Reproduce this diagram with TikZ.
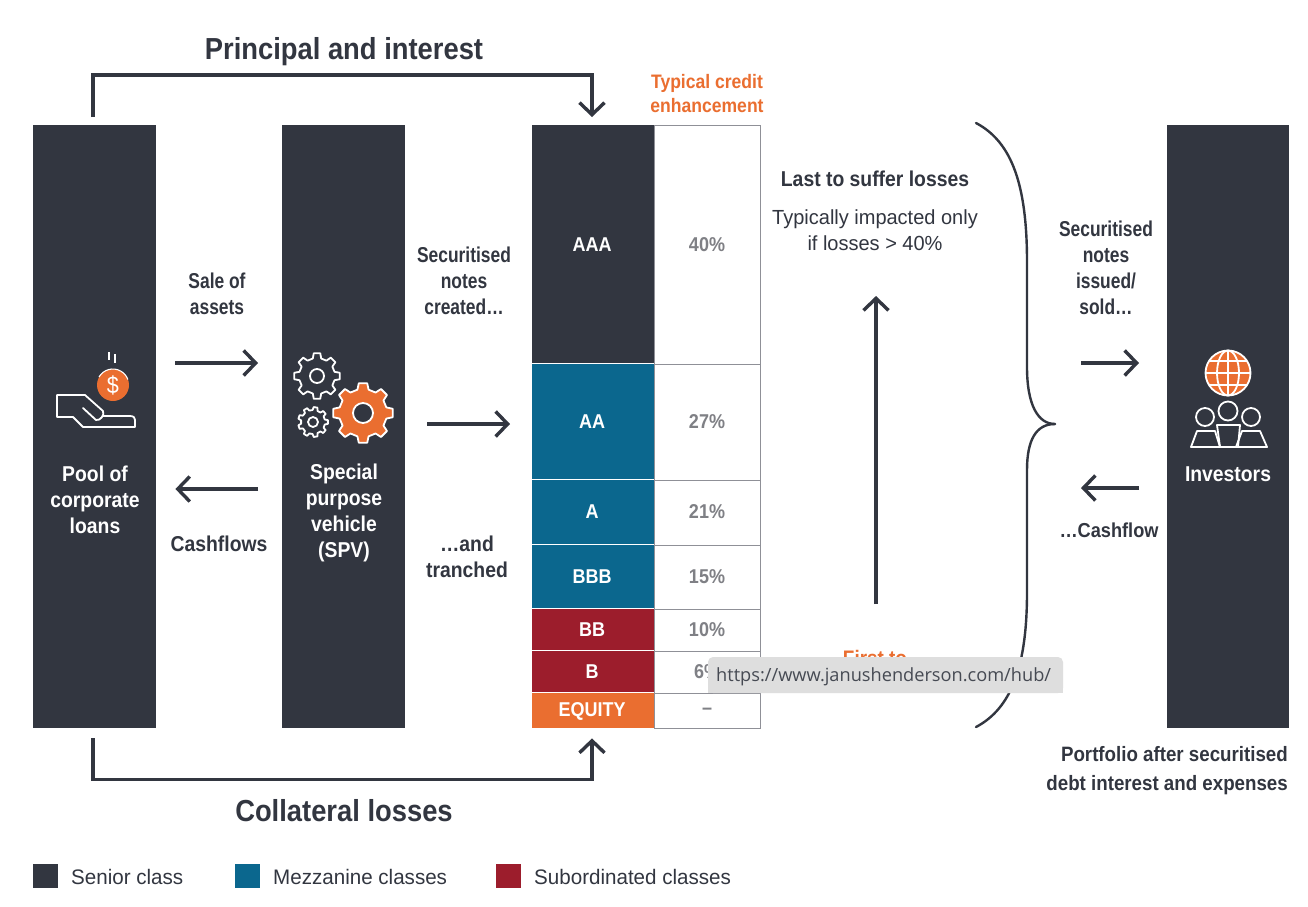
\documentclass[tikz,border=0pt]{standalone}
\usepackage{fontspec}
\setmainfont[FakeStretch=0.9]{Liberation Sans}
\newfontfamily\narrowf[FakeStretch=0.81]{Liberation Sans}
\newfontfamily\wideregf[FakeStretch=0.98]{Liberation Sans}
\newfontfamily\tipfont{Open Sans}
\usetikzlibrary{arrows.meta,calc}
\definecolor{ink}{HTML}{323640}
\definecolor{teal1}{HTML}{0B678E}
\definecolor{red1}{HTML}{9C1D2C}
\definecolor{org}{HTML}{EA6E30}
\definecolor{gry}{HTML}{7F8085}
\definecolor{rule1}{HTML}{8F9097}
\definecolor{tip}{HTML}{DEDEDE}
\newcommand{\fs}[1]{\fontsize{#1}{#1}\selectfont}
\tikzset{
  column1/.style={fill=ink,draw=none,inner sep=0,minimum width=123pt,minimum height=603pt,anchor=north west},
  band/.style={inner sep=0,minimum width=122pt,anchor=north west},
  pct/.style={inner sep=0,minimum width=105.5pt,anchor=north west,draw=rule1,line width=1.4pt},
  bandtxt/.style={text=white,font=\fs{20}\bfseries,inner sep=0},
  pcttxt/.style={text=gry,font=\fs{20}\bfseries,inner sep=0},
  lbl/.style={align=center,inner sep=0,font=\fs{21.5}\bfseries,text=ink},
  nlbl/.style={align=center,inner sep=0,font=\narrowf\fs{21.5}\bfseries,text=ink},
  collbl/.style={align=center,inner sep=0,font=\fs{21.5}\bfseries,text=white},
  head/.style={inner sep=0,font=\fs{30.4}\bfseries,text=ink},
  arr/.style={draw=ink,line width=3.4pt,-{Straight Barb[length=12pt,width=25pt,line width=3.4pt]}},
  icon/.style={draw=white,line width=1.8pt,line join=round},
  legbox/.style={inner sep=0,minimum width=25pt,minimum height=24pt,anchor=north west},
  legtxt/.style={inner sep=0,anchor=west,font=\wideregf\fs{21},text=ink},
}
\newcommand{\gear}[7]{% cx cy outer root teeth fill hole
  \draw[icon,fill=#6] ({#1+#4*cos(-360/#5*0.30)},{#2+#4*sin(-360/#5*0.30)})
  \foreach \k in {1,...,#5} {
     -- ({#1+#3*cos((\k-1)*360/#5-360/#5*0.18)},{#2+#3*sin((\k-1)*360/#5-360/#5*0.18)})
     -- ({#1+#3*cos((\k-1)*360/#5+360/#5*0.18)},{#2+#3*sin((\k-1)*360/#5+360/#5*0.18)})
     -- ({#1+#4*cos((\k-1)*360/#5+360/#5*0.30)},{#2+#4*sin((\k-1)*360/#5+360/#5*0.30)})
     -- ({#1+#4*cos((\k-1)*360/#5+360/#5*0.70)},{#2+#4*sin((\k-1)*360/#5+360/#5*0.70)})
  } -- cycle;
  \draw[icon,fill=ink] (#1,#2) circle[radius=#7];
}
\begin{document}
\begin{tikzpicture}[x=1pt,y=-1pt]
\useasboundingbox (0,0) rectangle (1308,906);
\fill[white] (0,0) rectangle (1308,906);

% columns
\node[column1] (pool) at (33,125) {};
\node[column1] (spv) at (282,125) {};
\node[column1,minimum width=122pt] (inv) at (1167,125) {};

% tranche stack
\node[pct,minimum height=239pt] (p1) at (654,125) {};
\node[pct,minimum height=116pt] (p2) at (654,364) {};
\node[pct,minimum height=65pt] (p3) at (654,480) {};
\node[pct,minimum height=64pt] (p4) at (654,545) {};
\node[pct,minimum height=42pt] (p5) at (654,609) {};
\node[pct,minimum height=42pt] (p6) at (654,651) {};
\node[pct,minimum height=35pt] (p7) at (654,693) {};
\node[band,fill=ink,minimum height=238pt] (aaa) at (532,125) {};
\node[band,fill=teal1,minimum height=115pt] (aa) at (532,364) {};
\node[band,fill=teal1,minimum height=64pt] (a) at (532,480) {};
\node[band,fill=teal1,minimum height=63pt] (bbb) at (532,545) {};
\node[band,fill=red1,minimum height=41pt] (bb) at (532,609) {};
\node[band,fill=red1,minimum height=41pt] (b) at (532,651) {};
\node[band,fill=org,minimum height=35pt] (eq) at (532,693) {};
\node[bandtxt] (taaa) at (592,245) {AAA};
\node[bandtxt] (taa) at (592,422) {AA};
\node[bandtxt] (ta) at (592,512) {A};
\node[bandtxt] (tbbb) at (592,577) {BBB};
\node[bandtxt] (tbb) at (592,630) {BB};
\node[bandtxt] (tb) at (592,672) {B};
\node[bandtxt] (teq) at (592,711) {EQUITY};
\node[pcttxt] (v1) at (707,245) {40\%};
\node[pcttxt] (v2) at (707,422) {27\%};
\node[pcttxt] (v3) at (707,512) {21\%};
\node[pcttxt] (v4) at (707,577) {15\%};
\node[pcttxt] (v5) at (707,630) {10\%};
\node[pcttxt] (v6) at (707,672) {6\%};
\node[pcttxt] (v7) at (707,711) {–};

% top and bottom loops
\draw[arr,shorten <=8pt,shorten >=8pt] ($(pool.north west)+(60,0)$) -- ++(0,-50) -| ($(aaa.north west)+(60,0)$);
\draw[arr,shorten <=10pt,shorten >=10pt] ($(pool.south west)+(60,0)$) -- ++(0,51) -| ($(eq.south west)+(60,0)$);

% horizontal arrows
\draw[arr,shorten <=19pt,shorten >=24pt] (pool.east |- 0,363) -- (spv.west |- 0,363);
\draw[arr,shorten <=24pt,shorten >=19pt] (spv.west |- 0,489) -- (pool.east |- 0,489);
\draw[arr,shorten <=22pt,shorten >=22pt] (spv.east |- 0,424) -- (aa.west |- 0,424);
\coordinate (bracetip) at (1055,424);
\coordinate (lastc) at (876,296);
\coordinate (firstc) at (876,604);
\draw[arr] (firstc) -- (lastc);
\coordinate (soldc) at (1081,363);
\coordinate (cashc) at (1081,488);
\draw[arr,shorten >=28pt] (soldc) -- (inv.west |- soldc);
\draw[arr,shorten <=28pt] (inv.west |- cashc) -- (cashc);

% brace
\draw[ink,line width=2.4pt,line cap=round] (976,123) .. controls (1012,142) and (1027,185) .. (1027,262)
  -- (1027,367) .. controls (1027,405) and (1038,424) .. (bracetip);
\draw[ink,line width=2.4pt,line cap=round] (976,727) .. controls (1012,708) and (1027,665) .. (1027,592)
  -- (1027,470) .. controls (1027,440) and (1036,424) .. (bracetip);

% text labels
\node[head] (pi) at (344,52) {Principal and interest};
\node[head] (cl) at (344,811) {Collateral losses};
\node[align=center,inner sep=0,text=org,font=\fs{19.5}\bfseries] (tce) at (707,94) {Typical credit\\[4.5pt]enhancement};
\node[collbl] (tpool) at (95,500) {Pool of\\[4.5pt]corporate\\[4.5pt]loans};
\node[collbl] (tspv) at (344,513) {Special\\[4.5pt]purpose\\[4.5pt]vehicle\\[4.5pt](SPV)};
\node[collbl] (tinv) at (1228,474) {Investors};
\node[nlbl] (sale) at (217,294) {Sale of\\[4.5pt]assets};
\node[lbl] (cf) at (219,544) {Cashflows};
\node[nlbl] (sec) at (464,281) {Securitised\\[4.5pt]notes\\[4.5pt]created…};
\node[lbl] (tr) at (467,557) {…and\\[4.5pt]tranched};
\node[lbl] (ltl) at (875,179) {Last to suffer losses};
\node[lbl,font=\wideregf\fs{20.4}] (ti) at (875,230) {Typically impacted only\\[5.5pt]if losses > 40\%};
\node[nlbl] (iss) at (1106,268) {Securitised\\[4.5pt]notes\\[4.5pt]issued/\\[4.5pt]sold…};
\node[nlbl,font=\fs{20.2}\bfseries] (cs) at (1109,530) {…Cashflow};
\node[lbl,align=right,anchor=east,font=\fs{20.8}\bfseries] (pf) at (1288,771) {Portfolio after securitised\\[8pt]debt interest and expenses};
\node[inner sep=0,text=org,font=\fs{21}\bfseries,anchor=base] (first) at (875,665) {First to};

% browser tooltip
\fill[tip,rounded corners=5pt] (708,657) -- (1063,657) -- (1063,693) -- (708,693) -- cycle;
\fill[tip] (708,680) rectangle (1063,693);
\node[inner sep=0,anchor=west,text=ink!90,font=\tipfont\fs{18.2}] (url) at (716,677) {https://www.janushenderson.com/hub/};

% legend
\node[legbox,fill=ink] (l1) at (33,864) {};
\node[legbox,fill=teal1] (l2) at (235,864) {};
\node[legbox,fill=red1] (l3) at (496,864) {};
\node[legtxt] (t1) at (71,877) {Senior class};
\node[legtxt] (t2) at (273,877) {Mezzanine classes};
\node[legtxt] (t3) at (534,877) {Subordinated classes};

% hand and coin icon
\draw[icon,line cap=round] (103,416) -- (130,416) .. controls (134,416) and (135,418) .. (135,420) -- (135,427) -- (83,427) -- (73,417) -- (57,417) -- (57,395) -- (85,395) -- (103,411) .. controls (105,415) and (100,421) .. (96,420) -- (83,408);
\fill[org] (113,385) circle[radius=16];
\draw[icon,line width=1.1pt] (99,377) arc[start angle=210,end angle=340,radius=16];
\node[inner sep=0,text=white,font=\fs{24}] (dollar) at (113,385) {\$};
\draw[icon] (109,352) -- (109,360) (115,354) -- (115,363);

% gears
\gear{317}{376}{23}{18}{8}{ink}{7}
\gear{313}{422}{15}{12}{9}{ink}{5}
\gear{363}{413}{30}{24}{8}{org}{10}

% globe
\fill[org] (1228,373) circle[radius=23];
\draw[icon] (1228,373) circle[radius=22.5];
\draw[icon] (1228,373) ellipse[x radius=11,y radius=22.5];
\draw[icon] (1228,350.5) -- (1228,395.5) (1205.5,373) -- (1250.5,373)
  (1209,361) -- (1247,361) (1209,385) -- (1247,385);

% people
\draw[icon] (1205,417) circle[radius=9] (1228,411) circle[radius=9.5] (1251,417) circle[radius=9];
\draw[icon] (1197,431) -- (1215,431) -- (1220,447) -- (1191,447) -- cycle;
\draw[icon] (1242,431) -- (1260,431) -- (1267,447) -- (1236,447) -- cycle;
\draw[icon] (1217,425) -- (1240,425) -- (1238,447) -- (1220,447) -- cycle;
\end{tikzpicture}
\end{document}
